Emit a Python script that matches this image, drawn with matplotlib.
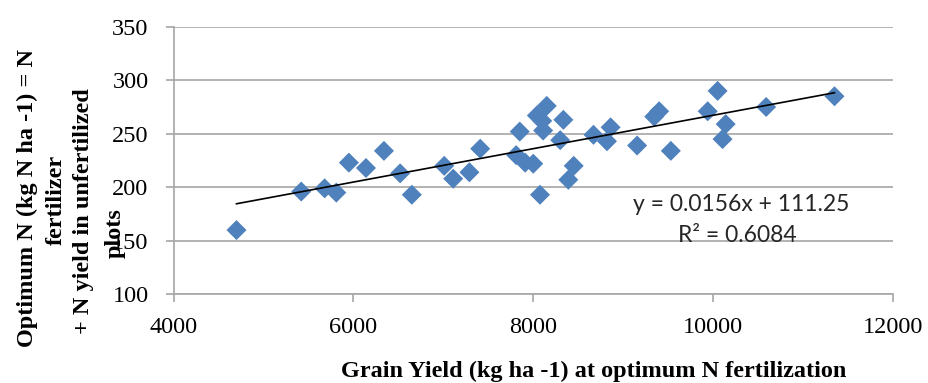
import numpy as np
import matplotlib.pyplot as plt

# Grain yield at optimum N (kg/ha) and optimum N (kg N/ha)
grain_yield = [4700, 5420, 5680, 5810, 5950, 6140, 6340, 6520, 6650, 7010,
               7110, 7290, 7410, 7810, 7850, 7910, 8000, 8075, 8040, 8150,
               8100, 8110, 8335, 8300, 8450, 8390, 8670, 8860, 8820, 9155,
               9345, 9400, 9530, 9940, 10050, 10140, 10105, 10590, 11350]
optimum_n = [160, 196, 199, 195, 223, 218, 234, 213, 193, 220,
             208, 214, 236, 230, 252, 223, 222, 193, 267, 276,
             262, 253, 263, 244, 220, 207, 249, 256, 243, 239,
             266, 271, 234, 271, 290, 259, 245, 275, 285]

# linear trend shown on the chart
slope, intercept = 0.0156, 111.25
r2 = 0.6084

xticks = [4000, 6000, 8000, 10000, 12000]
yticks = [100, 150, 200, 250, 300, 350]
ylabel_lines = ['Optimum N (kg N ha -1) = N', 'fertilizer',
                '+ N yield in unfertilized', 'plots']

serif = 'Liberation Serif'
grid_col = '#a6a6a6'

fig = plt.figure(figsize=(9.29, 3.83), dpi=100)
ax = fig.add_axes([0.1868, 0.2316, 0.9612 - 0.1868, 0.9303 - 0.2316])

ax.scatter(grain_yield, optimum_n, marker='D', s=10.2 ** 2, color='#4f81bd',
           edgecolors='none', zorder=3)

xs = np.array([min(grain_yield), max(grain_yield)])
ax.plot(xs, slope * xs + intercept, color='black', lw=1.2, zorder=4)

ax.set_xlim(4000, 12000)
ax.set_ylim(100, 350)
ax.set_xticks(xticks)
ax.set_yticks(yticks)
ax.yaxis.grid(True, color=grid_col, lw=1.2)
ax.set_axisbelow(True)
for s in ['top', 'right']:
    ax.spines[s].set_visible(False)
for s in ['left', 'bottom']:
    ax.spines[s].set_color(grid_col)
    ax.spines[s].set_linewidth(1.2)
ax.tick_params(axis='both', direction='out', length=6, width=1.2, color=grid_col,
               labelsize=17.5)
ax.tick_params(axis='y', pad=12)
ax.tick_params(axis='x', pad=10)
for lab in ax.get_xticklabels() + ax.get_yticklabels():
    lab.set_family(serif)

ax.text(0.789, 0.334, f'y = {slope}x + {intercept}', transform=ax.transAxes,
        ha='center', va='center', fontsize=16.5, family='Lato', color='#262626')
ax.text(0.783, 0.218, f'R² = {r2}', transform=ax.transAxes,
        ha='center', va='center', fontsize=16.5, family='Lato', color='#262626')

fig.text(0.639, 0.029, 'Grain Yield (kg ha -1) at optimum N fertilization',
         ha='center', va='center', fontsize=17.5, family=serif, weight='bold')

# y label: four wrapped lines, placed one by one like the original
ylab_x = [27, 56, 84, 115]
ylab_y = [198, 200, 211, 233]
for line, px, py in zip(ylabel_lines, ylab_x, ylab_y):
    fig.text(px / 929, 1 - py / 383, line, ha='center', va='center',
             rotation=90, fontsize=17.5, family=serif, weight='bold')

fig.savefig('out.png', dpi=100)
